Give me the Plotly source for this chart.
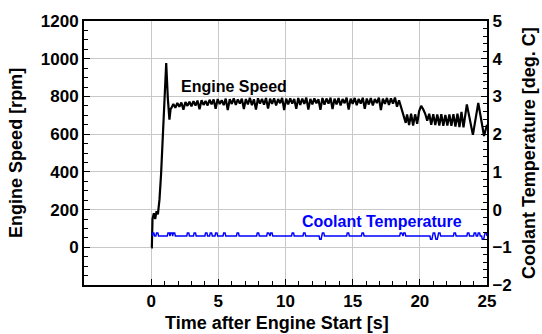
import numpy as np
import plotly.graph_objects as go

# ---------------- data ----------------
# Engine speed: start-up transient (explicit times)
start_t = [0.0, 0.05, 0.1, 0.2, 0.3, 0.4, 0.5, 0.62, 0.74, 0.87, 1.0, 1.12, 1.24, 1.36]
start_rpm = [0, 0, 150, 180, 150, 192, 175, 254, 391, 599, 841, 977, 790, 677]

# Engine speed: idle plateau, sampled every 0.15 s from 1.50 s to 18.45 s
plateau_t0 = 1.50
plateau_dt = 0.15
plateau_rpm = [
    738, 760, 740, 765, 745, 768, 730, 770, 750, 772,
    748, 775, 752, 778, 732, 780, 755, 776, 752, 782,
    758, 784, 735, 786, 760, 780, 754, 788, 728, 785,
    760, 790, 755, 784, 762, 788, 733, 786, 758, 792,
    754, 785, 730, 790, 762, 787, 756, 792, 736, 788,
    760, 790, 752, 786, 764, 792, 728, 788, 758, 790,
    762, 786, 734, 792, 755, 788, 760, 794, 730, 787,
    758, 790, 764, 785, 729, 792, 756, 789, 762, 793,
    733, 788, 758, 791, 752, 786, 764, 794, 730, 788,
    760, 792, 754, 787, 762, 793, 735, 789, 757, 791,
    752, 786, 765, 794, 728, 788, 760, 792, 755, 790,
    762, 794, 745, 780,
]

# Engine speed: drop and oscillation at the end (explicit times)
end_t = [18.6, 18.75, 18.85, 18.95, 19.05, 19.2, 19.35, 19.5, 19.65, 19.8,
         19.95, 20.1, 20.25, 20.4, 20.55, 20.7, 20.85, 21.0, 21.15, 21.3,
         21.45, 21.6, 21.75, 21.9, 22.05, 22.2, 22.35, 22.5, 22.65, 22.8,
         22.95, 23.1, 23.25, 23.5, 23.95, 24.35, 24.78, 25.0]
end_rpm = [745, 715, 686, 660, 705, 648, 708, 646, 705, 655,
           722, 750, 732, 708, 672, 708, 650, 706, 648, 704,
           646, 706, 644, 702, 646, 704, 644, 706, 640, 708,
           638, 718, 636, 758, 596, 766, 590, 650]

# Coolant temperature: baseline with short excursions (center time, level)
coolant_start = 0.1
coolant_end = 25.0
coolant_base = -0.70
bump_t = [0.15, 0.45, 1.3, 1.5, 1.7, 2.75, 3.25, 4.1, 4.45, 4.85, 5.45, 6.45,
          7.95, 8.7, 8.95, 10.55, 11.4, 12.6, 12.8, 14.65, 15.75, 18.6, 18.85,
          20.85, 21.05, 21.25, 21.45, 22.6, 23.6, 24.1, 24.4, 24.7, 24.9]
bump_val = [-0.62, -0.62, -0.62, -0.62, -0.62, -0.62, -0.62, -0.62, -0.62, -0.62, -0.62, -0.62,
            -0.62, -0.62, -0.62, -0.62, -0.62, -0.79, -0.62, -0.62, -0.62, -0.62, -0.62,
            -0.79, -0.62, -0.79, -0.62, -0.62, -0.62, -0.62, -0.62, -0.79, -0.62]

x_ticks = [0, 5, 10, 15, 20, 25]
y_ticks = [0, 200, 400, 600, 800, 1000, 1200]
y2_ticks = [-2, -1, 0, 1, 2, 3, 4, 5]

# ---------------- build series ----------------
plateau_t = [round(plateau_t0 + i * plateau_dt, 3) for i in range(len(plateau_rpm))]
eng_t = start_t + [1.45] + plateau_t + end_t
eng_rpm = start_rpm + [735] + plateau_rpm + end_rpm

cool_t = [coolant_start]
cool_v = [coolant_base]
for c, v in zip(bump_t, bump_val):
    a = max(c - 0.1, cool_t[-1])
    cool_t += [a, c - 0.05, c + 0.05, c + 0.1]
    cool_v += [coolant_base, v, v, coolant_base]
cool_t.append(coolant_end)
cool_v.append(coolant_base)

FONT = "Liberation Sans"
BOLD = dict(family=FONT, size=17, color="black", weight="bold")

fig = go.Figure()
fig.add_trace(go.Scatter(x=eng_t, y=eng_rpm, mode="lines",
                         line=dict(color="black", width=2.2), yaxis="y",
                         showlegend=False))
fig.add_trace(go.Scatter(x=cool_t, y=cool_v, mode="lines",
                         line=dict(color="#0000ff", width=1.5), yaxis="y2",
                         showlegend=False))

grid = "#c8c8c8"
fig.update_layout(
    width=542, height=334, autosize=False,
    margin=dict(l=84, r=55, t=16, b=49),
    paper_bgcolor="white", plot_bgcolor="white",
    font=dict(family=FONT, color="black", weight="bold", size=17),
    xaxis=dict(range=[-5, 25], tickvals=x_ticks, ticks="inside", ticklen=6,
               tickcolor="black", tickwidth=1, showgrid=True, gridcolor=grid,
               gridwidth=1, showline=True, linecolor="black", linewidth=2,
               mirror=True, zeroline=False, tickfont=BOLD,
               minor=dict(tickvals=[v for v in range(1, 25) if v % 5],
                          ticks="inside", ticklen=4, tickcolor="black",
                          showgrid=False)),
    yaxis=dict(range=[-200, 1200], tickvals=y_ticks, ticks="inside", ticklen=6,
               tickcolor="black", showgrid=True, gridcolor=grid, gridwidth=1,
               showline=True, linecolor="black", linewidth=2, zeroline=False,
               tickfont=BOLD,
               minor=dict(dtick=50, tick0=0, ticks="inside", ticklen=4,
                          tickcolor="black", showgrid=False)),
    yaxis2=dict(range=[-2, 5], tickvals=y2_ticks, overlaying="y", side="right",
                ticks="inside", ticklen=6, tickcolor="black", showgrid=False,
                showline=True, linecolor="black", linewidth=2, zeroline=False,
                tickfont=BOLD,
                minor=dict(dtick=0.2, tick0=0, ticks="inside", ticklen=4,
                           tickcolor="black", showgrid=False)),
    annotations=[
        dict(text="Time after Engine Start [s]", xref="paper", yref="paper",
             x=0.479, y=-0.145, xanchor="center", yanchor="middle",
             showarrow=False, font=dict(family=FONT, size=18, weight="bold")),
        dict(text="Engine Speed [rpm]", xref="paper", yref="paper",
             x=-0.169, y=0.5, xanchor="center", yanchor="middle", textangle=-90,
             showarrow=False, font=dict(family=FONT, size=18, weight="bold")),
        dict(text="Coolant Temperature [deg. C]", xref="paper", yref="paper",
             x=1.104, y=0.5, xanchor="center", yanchor="middle", textangle=-90,
             showarrow=False, font=dict(family=FONT, size=18, weight="bold")),
        dict(text="Engine Speed", xref="x", yref="y", x=6.13, y=853,
             showarrow=False, font=dict(family=FONT, size=16, weight="bold",
                                        color="black")),
        dict(text="Coolant Temperature", xref="x", yref="y2", x=17.2, y=-0.32,
             showarrow=False, font=dict(family=FONT, size=16, weight="bold",
                                        color="#0000ff")),
    ],
)

fig.write_html("out.html")
